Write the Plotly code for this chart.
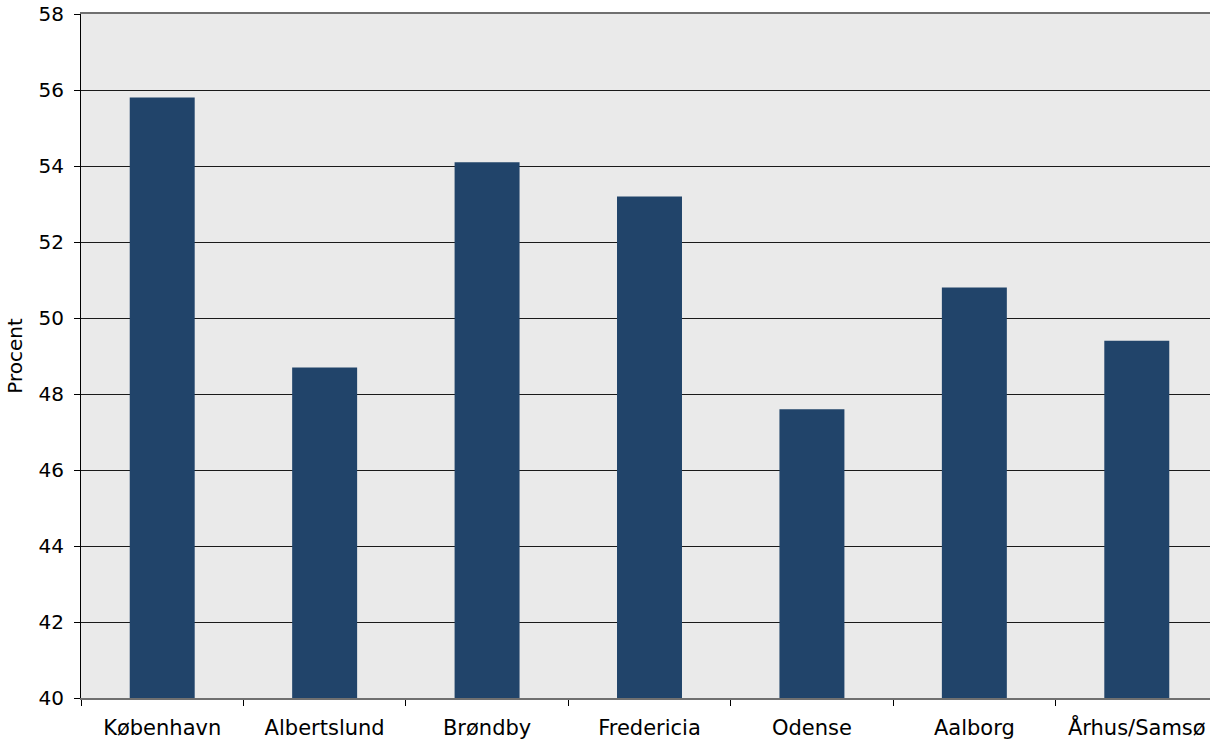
import plotly.graph_objects as go

categories = ["København", "Albertslund", "Brøndby", "Fredericia", "Odense", "Aalborg", "Århus/Samsø"]
values = [55.8, 48.7, 54.1, 53.2, 47.6, 50.8, 49.4]
y_ticks = [40, 42, 44, 46, 48, 50, 52, 54, 56, 58]

fig = go.Figure(go.Bar(x=categories, y=values, marker_color="#21446A", marker_line_width=0))

fig.update_layout(
    width=1218, height=741,
    margin=dict(l=81, r=0, t=14, b=43),
    paper_bgcolor="white", plot_bgcolor="#EAEAEA",
    bargap=0.6,
    showlegend=False,
    font=dict(family="DejaVu Sans", size=20, color="black"),
)
fig.update_xaxes(
    automargin=False,
    showgrid=False, showline=True, linecolor="#707070", linewidth=2, mirror=True,
    ticks="outside", tickson="boundaries", ticklen=6, tickcolor="black",
    tickfont=dict(size=21), ticklabelstandoff=10,
)
fig.update_yaxes(
    automargin=False,
    range=[40, 58], tickvals=y_ticks, showgrid=True, gridcolor="#1a1a1a", gridwidth=1,
    showline=True, linecolor="black", linewidth=1,
    ticks="outside", ticklen=6, tickcolor="black", ticklabelstandoff=6,
    title=dict(text="Procent", font=dict(size=20), standoff=10),
    tickfont=dict(size=20),
)
fig.write_html(
    "out.html",
    config={"displayModeBar": False},
    post_script=(
        "document.documentElement.style.overflow='hidden';"
        "document.body.style.margin='0';document.body.style.overflow='hidden';"
    ),
)
